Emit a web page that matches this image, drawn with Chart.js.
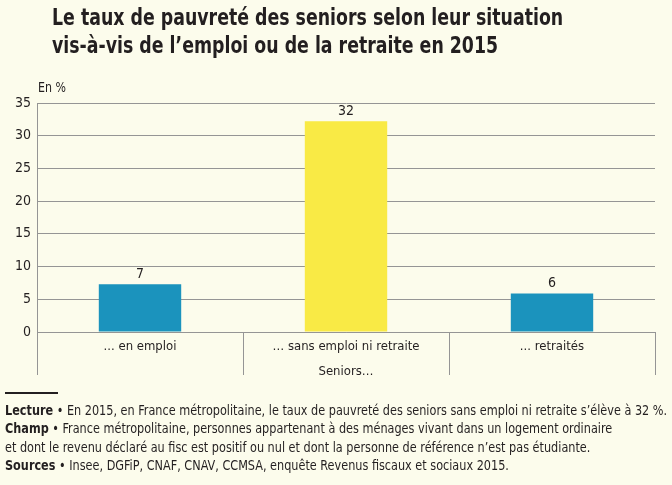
<!DOCTYPE html>
<html lang="fr">
<head>
<meta charset="utf-8">
<title>Taux de pauvreté des seniors</title>
<script src="https://cdn.jsdelivr.net/npm/chart.js@4.4.1/dist/chart.umd.min.js"></script>
<style>
  body { margin: 0; background: #fcfcec; }
  #wrap { position: relative; width: 672px; height: 485px; overflow: hidden;
          font-family: "DejaVu Sans Condensed", "Liberation Sans", sans-serif; color: #231f20; }
  #chart { position: absolute; left: 0; top: 0; }
  .fit { transform-origin: 0 0; white-space: nowrap; }
  .title { position: absolute; left: 52px; top: 3px; font-weight: bold; font-size: 23px; line-height: 28px; }
  .unit { position: absolute; left: 38px; top: 79px; font-size: 14px; }
  .rule { position: absolute; left: 5px; top: 392px; width: 53px; height: 2px; background: #231f20; }
  .notes { position: absolute; left: 5px; top: 401px; font-size: 14px; line-height: 18.3px; }
  .notes b { font-weight: bold; }
</style>
</head>
<body>
<div id="wrap">
  <canvas id="chart" width="672" height="485"></canvas>
  <div class="title fit" data-w="511">Le taux de pauvreté des seniors selon leur situation<br>vis-à-vis de l’emploi ou de la retraite en 2015</div>
  <div class="unit fit" data-w="28">En %</div>
  <div class="rule"></div>
  <div class="notes fit" data-w="662">
    <b>Lecture</b> • En 2015, en France métropolitaine, le taux de pauvreté des seniors sans emploi ni retraite s’élève à 32 %.<br>
    <b>Champ</b> • France métropolitaine, personnes appartenant à des ménages vivant dans un logement ordinaire<br>
    et dont le revenu déclaré au fisc est positif ou nul et dont la personne de référence n’est pas étudiante.<br>
    <b>Sources</b> • Insee, DGFiP, CNAF, CNAV, CCMSA, enquête Revenus fiscaux et sociaux 2015.
  </div>
</div>
<script>
// data
const categories = ["... en emploi", "… sans emploi ni retraite", "... retraités"];
const povertyRates = [7.3, 32.2, 5.9];
const rateLabels = ["7", "32", "6"];
const barColors = ["#1b93bd", "#f9ea45", "#1b93bd"];
const groupTitle = "Seniors…";

const textColor = "#231f20";
const lineColor = "#959595";
const fontFamily = '"DejaVu Sans Condensed", "Liberation Sans", sans-serif';

// squeeze the html text blocks to the width of the narrow original font
document.querySelectorAll(".fit").forEach(el => {
    const target = parseFloat(el.dataset.w);
    el.style.transform = "scaleX(" + (target / el.offsetWidth) + ")";
});

Chart.defaults.font.family = fontFamily;
Chart.defaults.font.size = 14;
Chart.defaults.color = textColor;

// draws the value above each bar
const valueLabels = {
    id: "valueLabels",
    afterDatasetsDraw(chart) {
        const ctx = chart.ctx;
        const meta = chart.getDatasetMeta(0);
        ctx.save();
        ctx.font = "14px " + fontFamily;
        ctx.fillStyle = textColor;
        ctx.textAlign = "center";
        ctx.textBaseline = "bottom";
        meta.data.forEach((bar, i) => {
            ctx.fillText(rateLabels[i], bar.x, bar.y - 3);
        });
        ctx.restore();
    }
};

new Chart(document.getElementById("chart"), {
    type: "bar",
    data: {
        labels: categories,
        datasets: [{
            data: povertyRates,
            backgroundColor: barColors,
            categoryPercentage: 1,
            barPercentage: 0.4
        }]
    },
    options: {
        responsive: false,
        animation: false,
        layout: { padding: { left: 0, top: 103, right: 17, bottom: 105 } },
        plugins: {
            legend: { display: false },
            tooltip: { enabled: false }
        },
        scales: {
            x: {
                grid: { offset: true, drawOnChartArea: false, tickLength: 43, color: lineColor },
                border: { display: true, color: lineColor },
                ticks: { padding: -36, color: textColor, font: { size: 13 } },
                title: { display: true, text: groupTitle, color: textColor, font: { size: 13 }, padding: { top: 0, bottom: 1 } },
                afterFit(scale) { scale.height = 48; }
            },
            y: {
                min: 0,
                max: 35,
                grid: { drawTicks: false, color: lineColor },
                border: { display: true, color: lineColor },
                ticks: { stepSize: 5, padding: 6, color: textColor },
                afterFit(scale) { scale.width = 37; }
            }
        }
    },
    plugins: [valueLabels]
});
</script>
</body>
</html>
